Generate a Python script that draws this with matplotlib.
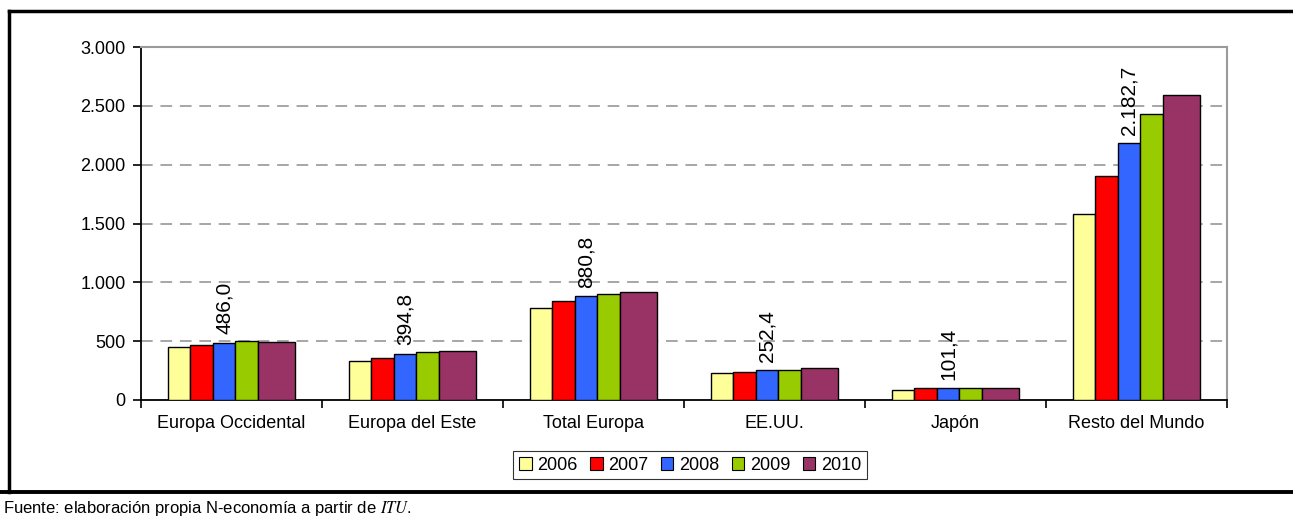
import matplotlib
matplotlib.use("Agg")
from matplotlib import pyplot as plt
from matplotlib.lines import Line2D
from matplotlib.ticker import FuncFormatter

plt.rcParams["font.family"] = ["Liberation Sans", "DejaVu Sans"]
plt.rcParams["mathtext.fontset"] = "stix"

regions = ["Europa Occidental", "Europa del Este", "Total Europa", "EE.UU.", "Japón", "Resto del Mundo"]
years = ["2006", "2007", "2008", "2009", "2010"]
v2006 = [450, 331, 782, 227, 88, 1583]
v2007 = [467, 360, 841, 241, 100, 1900]
v2008 = [486.0, 394.8, 880.8, 252.4, 101.4, 2182.7]
v2009 = [498, 405, 901, 252, 102, 2427]
v2010 = [497, 419, 915, 269, 103, 2589]
series = [v2006, v2007, v2008, v2009, v2010]
colors = ["#FFFF99", "#FF0000", "#3366FF", "#99CC00", "#993366"]
widths = [0.123, 0.128, 0.123, 0.128, 0.205]

fig = plt.figure(figsize=(12.93, 5.18), dpi=100)
ax = fig.add_axes([141 / 1293, 1 - 400 / 518, (1227 - 141) / 1293, (400 - 47) / 518])

total = sum(widths)
for i, (vals, col) in enumerate(zip(series, colors)):
    off = -total / 2 + sum(widths[:i]) + widths[i] / 2
    xs = [k + 0.5 + off for k in range(len(regions))]
    ax.bar(xs, vals, width=widths[i], color=col, edgecolor="black", linewidth=1.0, zorder=3)
    if years[i] == "2008":
        for x, v in zip(xs, vals):
            ax.annotate(f"{v:,.1f}".replace(",", "X").replace(".", ",").replace("X", "."),
                        (x, v), xytext=(0, 6), textcoords="offset points",
                        rotation=90, ha="center", va="bottom", fontsize=15, zorder=4)

ax.set_xlim(0, len(regions))
ax.set_ylim(0, 3000)
ax.set_yticks(range(0, 3001, 500))
ax.yaxis.set_major_formatter(FuncFormatter(lambda v, p: f"{int(v):,}".replace(",", ".")))
ax.set_xticks(range(len(regions) + 1))
ax.set_xticklabels([])
ax.set_xticks([k + 0.5 for k in range(len(regions))], minor=True)
ax.set_xticklabels(regions, minor=True, fontsize=13)
ax.tick_params(axis="x", which="minor", length=0, pad=11)
ax.tick_params(axis="x", which="major", length=6, width=1.2, color="black")
ax.tick_params(axis="y", length=6, width=1.2, labelsize=13, pad=5)

for y in range(500, 3000, 500):
    ax.axhline(y, color="#A6A6A6", linewidth=1.4, dashes=(6, 4), zorder=1)

ax.spines["left"].set_color("black")
ax.spines["bottom"].set_color("black")
ax.spines["left"].set_linewidth(1.3)
ax.spines["bottom"].set_linewidth(1.3)
ax.spines["top"].set_color("#9A9A9A")
ax.spines["right"].set_color("#9A9A9A")
ax.spines["top"].set_linewidth(1.5)
ax.spines["right"].set_linewidth(1.5)

handles = [plt.Rectangle((0, 0), 1, 1, facecolor=c, edgecolor="black", linewidth=0.8) for c in colors]
leg = fig.legend(handles, years, loc="center", bbox_to_anchor=(690 / 1293, 1 - 465 / 518),
                 ncol=5, fontsize=13, frameon=True, fancybox=False, handlelength=0.7,
                 handleheight=0.7, handletextpad=0.3, columnspacing=0.7, borderpad=0.3)
leg.get_frame().set_edgecolor("black")
leg.get_frame().set_linewidth(0.8)

# outer frame
fig.add_artist(Line2D([9 / 1293, 9 / 1293], [1 - 11 / 518, 1 - 492 / 518], color="black", linewidth=2.5,
                      transform=fig.transFigure))
fig.add_artist(Line2D([9 / 1293, 1], [1 - 11 / 518, 1 - 11 / 518], color="black", linewidth=2.5,
                      transform=fig.transFigure))
fig.add_artist(Line2D([0, 1], [1 - 492 / 518, 1 - 492 / 518], color="black", linewidth=2.8,
                      transform=fig.transFigure))

fig.text(3 / 1293, 1 - 509 / 518, "Fuente: elaboración propia N-economía a partir de $ITU$.",
         fontsize=12, ha="left", va="center")

fig.savefig("out.png", dpi=100)
